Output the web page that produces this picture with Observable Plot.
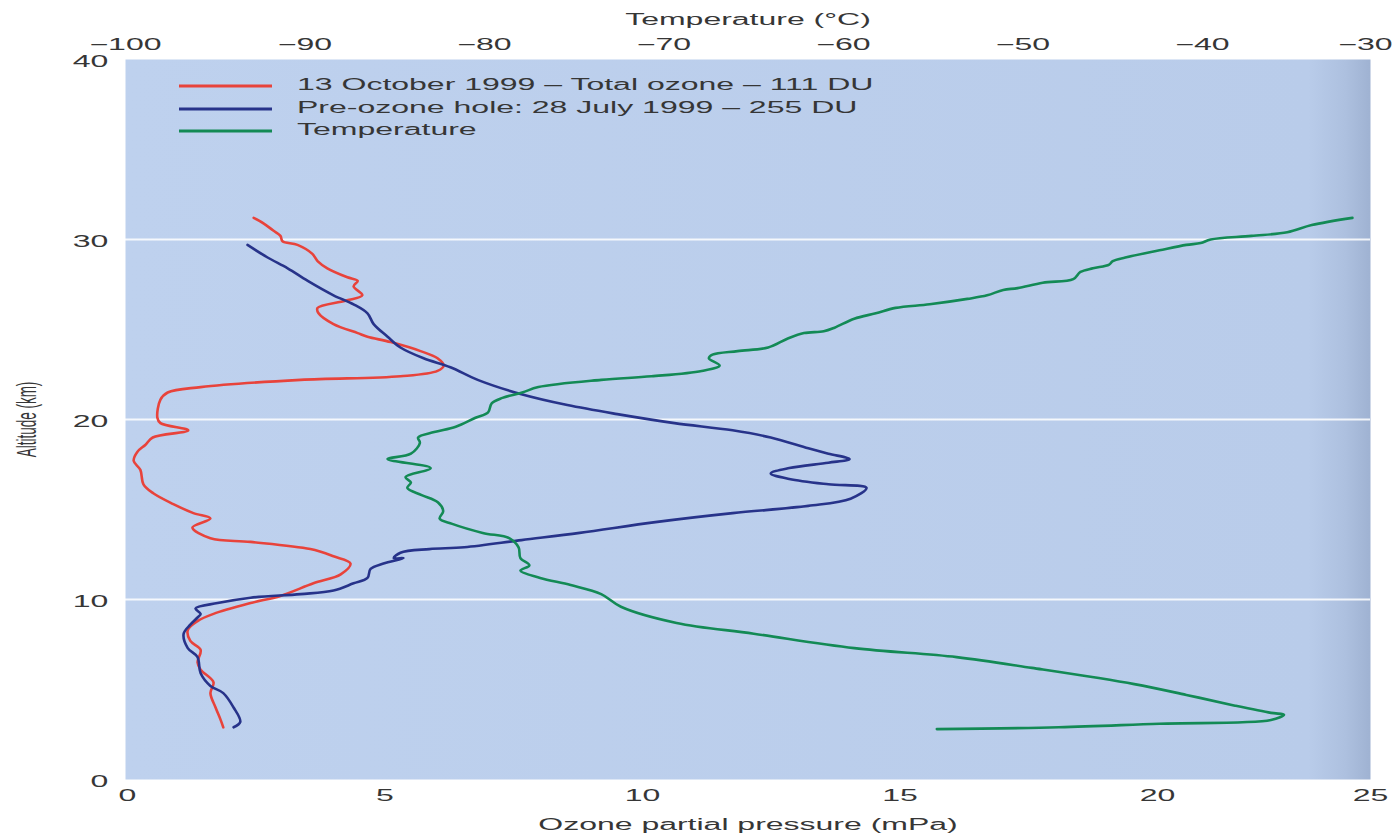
<!DOCTYPE html>
<html>
<head>
<meta charset="utf-8">
<script src="https://cdn.jsdelivr.net/npm/d3@7"></script>
<script src="https://cdn.jsdelivr.net/npm/@observablehq/plot@0.6"></script>
<style>
  html, body { margin: 0; padding: 0; background: #ffffff; }
  #chart { position: relative; width: 1397px; height: 834px; overflow: hidden; font-family: "Liberation Sans", Arial, sans-serif; }
  #chart > svg { position: absolute; left: 0; top: 0; }
  #legend { position: absolute; left: 179px; top: 75px; color: #363636; font-size: 16px; }
  #legend .row { position: relative; height: 22.5px; }
  #legend svg { position: absolute; left: 0; top: 0; }
  #legend span { position: absolute; left: 118px; top: 1px; white-space: nowrap; transform: scaleX(2); transform-origin: 0 50%; }
</style>
</head>
<body>
<div id="chart"><div id="legend"></div></div>
<script>
// Ozonesonde profiles over the South Pole, 1999.
// 13 October 1999 (ozone hole) – altitude (km) and ozone partial pressure (mPa)
const octAltitude = [31.2,30.9,30.5,30.2,29.9,29.7,29.2,28.8,28.4,27.9,27.7,27.4,26.9,26.6,26.2,25.9,25.3,24.8,24.6,24.3,23.8,23.4,23.0,22.7,22.4,22.2,21.8,21.5,21.1,20.1,19.8,19.4,19.0,18.6,18.2,17.7,17.2,16.4,15.9,15.3,14.8,14.5,14.0,13.4,13.2,12.8,12.4,12.0,11.4,10.9,10.2,9.8,9.2,8.8,8.3,7.7,7.2,6.5,6.1,5.4,4.8,4.0,3.3,2.9];
const octOzone = [2.45,2.64,2.83,2.97,3.01,3.30,3.59,3.69,3.88,4.27,4.47,4.39,4.56,4.23,3.69,3.71,4.00,4.47,4.66,5.11,5.69,6.02,6.14,6.02,5.30,3.36,1.42,0.78,0.64,0.58,0.64,1.18,0.49,0.35,0.19,0.12,0.25,0.31,0.50,0.89,1.28,1.61,1.26,1.61,2.39,3.55,4.00,4.33,4.14,3.61,2.97,2.39,1.67,1.36,1.17,1.22,1.42,1.36,1.42,1.67,1.61,1.71,1.81,1.86];

// 28 July 1999 (before the ozone hole)
const julAltitude = [29.7,29.0,28.4,27.7,26.9,26.4,25.9,25.3,24.6,24.0,23.4,22.9,22.2,21.4,20.8,20.3,19.8,19.4,19.0,18.4,18.1,17.8,17.6,17.3,17.0,16.7,16.4,16.2,15.6,15.2,14.8,14.3,13.7,13.3,12.9,12.8,12.6,12.3,12.3,12.0,11.7,11.2,10.9,10.5,10.3,10.1,9.8,9.5,9.2,9.0,8.6,8.1,7.3,6.8,5.9,5.2,4.8,4.0,3.2,2.9];
const julOzone = [2.33,2.72,3.11,3.50,4.00,4.39,4.66,4.78,5.05,5.30,5.75,6.27,6.80,7.65,8.54,9.51,10.62,11.75,12.49,13.22,13.61,14.02,13.61,12.85,12.49,12.85,13.61,14.35,14.04,13.22,11.75,10.25,8.78,7.65,6.54,5.86,5.30,5.17,5.36,4.97,4.72,4.66,4.39,4.00,3.36,2.39,1.75,1.32,1.42,1.36,1.22,1.09,1.17,1.36,1.42,1.61,1.86,2.06,2.19,2.06];

// Temperature profile – altitude (km) and temperature (°C)
const tempAltitude = [31.2,30.8,30.4,30.2,30.0,29.8,29.7,29.4,29.0,28.8,28.6,28.4,28.2,27.8,27.6,27.3,27.2,26.9,26.7,26.4,26.2,25.9,25.6,25.1,24.9,24.8,24.5,24.0,23.8,23.6,23.4,23.0,22.7,22.4,22.2,21.8,21.5,21.2,20.9,20.4,20.1,19.6,19.3,19.0,18.7,18.1,17.8,17.3,16.8,16.5,16.2,15.8,15.4,14.9,14.5,14.2,13.7,13.4,12.9,12.3,11.9,11.6,11.2,10.8,10.3,9.6,8.7,8.1,7.3,6.8,6.2,5.3,4.7,4.1,3.7,3.6,3.3,3.1,2.9,2.8];
const tempCelsius = [-30.8,-33.3,-34.8,-37.0,-39.5,-40.1,-40.9,-42.4,-44.3,-45.0,-45.2,-46.1,-46.8,-47.2,-48.9,-50.3,-51.1,-52.0,-53.1,-55.2,-57.1,-58.2,-59.4,-60.5,-61.1,-62.2,-63.1,-64.2,-65.9,-67.3,-67.5,-66.9,-67.9,-70.7,-73.5,-77.0,-77.9,-79.0,-79.6,-79.8,-80.5,-81.6,-82.8,-83.7,-83.6,-84.1,-85.4,-83.0,-84.4,-84.1,-84.3,-83.5,-82.6,-82.3,-82.5,-81.8,-80.1,-78.6,-78.1,-78.0,-77.5,-78.0,-76.9,-75.2,-73.5,-72.4,-69.3,-65.0,-59.4,-53.7,-49.5,-43.8,-40.9,-38.0,-35.8,-35.0,-35.8,-42.4,-48.0,-54.8];

// Axis ticks and reference lines
const ozoneTicks = [0, 5, 10, 15, 20, 25];
const tempTicks = [-100, -90, -80, -70, -60, -50, -40, -30];
const altitudeTicks = [0, 10, 20, 30, 40];
const gridAltitudes = [10, 20, 30];

// Legend entries
const seriesNames = ["13 October 1999 \u2013 Total ozone \u2013 111 DU", "Pre-ozone hole: 28 July 1999 \u2013 255 DU", "Temperature"];
const seriesColors = ["#e8433b", "#27338a", "#138a55"];

const octRows = octAltitude.map((alt, i) => ({alt, ozone: octOzone[i]}));
const julRows = julAltitude.map((alt, i) => ({alt, ozone: julOzone[i]}));
const tempRows = tempAltitude.map((alt, i) => ({alt, temp: tempCelsius[i]}));

const W = 1397, H = 834;
const M = {left: 125, right: 27, top: 59, bottom: 55};
const textStyle = {fontFamily: "'Liberation Sans', Arial, sans-serif", fontSize: "16px", color: "#363636", background: "transparent", overflow: "visible"};
const lineCurve = "catmull-rom";

// Ozone partial pressure panel (bottom axis, altitude on the left)
const ozonePlot = Plot.plot({
  width: W, height: H,
  marginLeft: M.left, marginRight: M.right, marginTop: M.top, marginBottom: M.bottom,
  style: textStyle,
  x: {type: "linear", domain: [0, 20, 25], range: [127, 1157, 1370], ticks: ozoneTicks, tickSize: 0, tickPadding: 10,
      label: "Ozone partial pressure (mPa)", labelAnchor: "center", labelOffset: 50},
  y: {type: "linear", domain: [0, 40], ticks: altitudeTicks, tickSize: 0, tickPadding: 17,
      label: "Altitude (km)", labelAnchor: "center", labelOffset: 104},
  marks: [
    Plot.frame({fill: "#bccfec", stroke: "none"}),
    Plot.ruleY(gridAltitudes, {stroke: "#ffffff", strokeWidth: 2, strokeOpacity: 0.85}),
    Plot.line(octRows, {x: "ozone", y: "alt", stroke: seriesColors[0], strokeWidth: 2.6, curve: lineCurve}),
    Plot.line(julRows, {x: "ozone", y: "alt", stroke: seriesColors[1], strokeWidth: 2.6, curve: lineCurve})
  ]
});

// Temperature panel sharing the same frame (top axis)
const tempPlot = Plot.plot({
  width: W, height: H,
  marginLeft: M.left, marginRight: M.right, marginTop: M.top, marginBottom: M.bottom,
  style: textStyle,
  x: {type: "linear", domain: [-100, -40, -30], range: [125, 1202, 1365], axis: "top", ticks: tempTicks, tickSize: 0, tickPadding: 10,
      label: "Temperature (\u00b0C)", labelAnchor: "center", labelOffset: 46},
  y: {type: "linear", domain: [0, 40], axis: null},
  marks: [
    Plot.line(tempRows, {x: "temp", y: "alt", stroke: seriesColors[2], strokeWidth: 2.6, curve: lineCurve})
  ]
});

const chart = document.getElementById("chart");
chart.insertBefore(tempPlot, chart.firstChild);
chart.insertBefore(ozonePlot, chart.firstChild);

// Panel background: pale blue, darkening toward the right edge
const NS = "http://www.w3.org/2000/svg";
const defs = document.createElementNS(NS, "defs");
defs.innerHTML = `<linearGradient id="panelFill" gradientUnits="userSpaceOnUse" x1="125" y1="0" x2="1370" y2="0">
  <stop offset="0" stop-color="#bed1ee"/><stop offset="0.95" stop-color="#b9ccea"/>
  <stop offset="0.98" stop-color="#adc0df"/><stop offset="1" stop-color="#9fb2d2"/></linearGradient>`;
ozonePlot.insertBefore(defs, ozonePlot.firstChild);
const frameRect = ozonePlot.querySelector("[aria-label=frame] rect, rect[aria-label=frame]") || ozonePlot.querySelector("[aria-label=frame]");
if (frameRect) frameRect.setAttribute("fill", "url(#panelFill)");

// Axis titles without direction arrows; smaller condensed altitude title
for (const svg of [ozonePlot, tempPlot]) {
  for (const t of svg.querySelectorAll("text")) {
    if (/[\u2190-\u2193]/.test(t.textContent)) t.textContent = t.textContent.replace(/[\u2190-\u2193]/g, "").trim();
    if (t.textContent.includes("Altitude")) t.style.fontSize = "13.5px";
  }
}

// Wide lettering: stretch every label horizontally about its anchor point;
// right-anchored (altitude) tick labels sit slightly below their tick
function stretchText(svg, k) {
  for (const t of Array.from(svg.querySelectorAll("text"))) {
    const r = t.getBoundingClientRect();
    if (!r.width) continue;
    const anchor = getComputedStyle(t).textAnchor;
    const sx = anchor === "start" ? r.left : anchor === "end" ? r.right : (r.left + r.right) / 2;
    const dy = anchor === "end" ? 2.5 : 0;
    const parent = t.parentNode;
    const p = new DOMPoint(sx, r.top).matrixTransform(parent.getScreenCTM().inverse());
    const g = document.createElementNS(NS, "g");
    g.setAttribute("transform", `translate(${p.x},${dy}) scale(${k},1) translate(${-p.x},0)`);
    parent.insertBefore(g, t);
    g.appendChild(t);
  }
}
stretchText(ozonePlot, 2);
stretchText(tempPlot, 2);

// Legend with line swatches
const legend = document.getElementById("legend");
seriesNames.forEach((name, i) => {
  const row = document.createElement("div");
  row.className = "row";
  row.innerHTML = `<svg width="95" height="22"><line x1="0" x2="93" y1="11" y2="11" stroke="${seriesColors[i]}" stroke-width="3"/></svg><span>${name}</span>`;
  legend.appendChild(row);
});
</script>
</body>
</html>
